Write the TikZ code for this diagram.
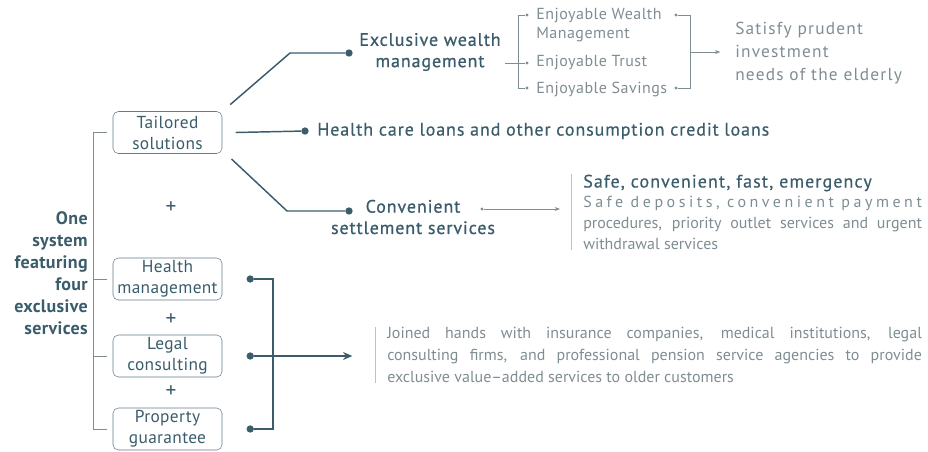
\documentclass[tikz,border=0pt]{standalone}
\usepackage{fontspec}
\setmainfont{PT Sans}
\usetikzlibrary{positioning,arrows.meta}
\definecolor{deepteal}{HTML}{3A5C6B}
\definecolor{softgray}{HTML}{7F8D93}
\definecolor{rulegray}{HTML}{B9C2C6}
\tikzset{
  service/.style = {draw = deepteal!80, rounded corners = 4pt, minimum width = 81.75pt, minimum height = 31.5pt, inner sep = 1pt, align = center, text = deepteal, font = \fontsize{13}{15.75}\selectfont\addfontfeatures{LetterSpace=2}},
  topic/.style = {text = deepteal, align = center, font = \fontsize{13.5}{16}\selectfont\addfontfeatures{FakeBold=0.8, LetterSpace=5}},
  lead/.style = {text = deepteal, anchor = west, inner sep = 0pt, font = \fontsize{13.5}{16}\selectfont\addfontfeatures{FakeBold=0.4, LetterSpace=5}},
  note/.style = {text = softgray, anchor = west, inner sep = 0pt, align = left, font = \fontsize{12}{16.5}\selectfont},
  blob/.style = {circle, fill = deepteal, inner sep = 0pt, minimum size = 5.5pt},
  pin/.style = {circle, fill = softgray, inner sep = 0pt, minimum size = 2.6pt},
  wire/.style = {draw = deepteal, line width = 1.1pt},
  fine/.style = {draw = softgray, line width = 0.6pt},
  rule/.style = {draw = rulegray, line width = 0.6pt}
}

\begin{document}
\begin{tikzpicture}[x = 0.75pt, y = -0.75pt]
\useasboundingbox (0,0) rectangle (928,451);
\node[text = deepteal, align = right, anchor = east, inner sep = 0pt, font = \bfseries\fontsize{13.5}{16.5}\selectfont\addfontfeatures{LetterSpace=2}] (system) at (88,273) {One\\system\\featuring\\four\\exclusive\\services};
\node[service] (tailored) at (167.5,132.5) {Tailored\\solutions};
\node[service] (health) at (167.5,279) {Health\\management};
\node[service] (legal) at (167.5,356) {Legal\\consulting};
\node[service] (property) at (167.5,429) {Property\\guarantee};
\foreach \y/\n in {208/1, 320/2, 392/3}
  \node[text = deepteal, font = \fontsize{16}{16}\selectfont] (plus\n) at (171,\y) {+};
\draw[fine] ([xshift = -4pt]tailored.west) -- ++(-10.5pt,0) |- ([xshift = -4pt]property.west);
\foreach \b in {health, legal}
  \draw[fine] ([xshift = -4pt]\b.west) -- ++(-10.5pt,0);

\node[blob] (wdot) at (349,53) {};
\node[blob] (ldot) at (305,131) {};
\node[blob] (cdot) at (349,211) {};
\coordinate (wbend) at (290,53);
\coordinate (cbend) at (287,211);
\draw[wire] ([shift = {(6pt,5pt)}]tailored.north east) -- (wbend) -- (wdot);
\draw[wire] ([xshift = 10pt]tailored.east) -- (ldot);
\draw[wire] ([shift = {(7pt,-4pt)}]tailored.south east) -- (cbend) -- (cdot);
\node[topic] (wealth) at (430,52) {Exclusive wealth\\management};
\node[lead] (loans) at (317,131) {Health care loans and other consumption credit loans};
\node[topic] (settle) at (413,217) {Convenient\\settlement services};

\node[pin] (e1) at (527,15) {};
\node[pin] (e2) at (527,63) {};
\node[pin] (e3) at (527,88) {};
\node[note, anchor = north west, font = \fontsize{12}{14.25}\selectfont\addfontfeatures{LetterSpace=3}] (enjoy1) at (536,8) {Enjoyable Wealth\\Management};
\node[note, font = \fontsize{12}{14.25}\selectfont\addfontfeatures{LetterSpace=3}] (enjoy2) at (536,63) {Enjoyable Trust};
\node[note, font = \fontsize{12}{14.25}\selectfont\addfontfeatures{LetterSpace=3}] (enjoy3) at (536,89) {Enjoyable Savings};
\draw[fine] (e1) -- ++(-9,0) |- (e3);
\draw[fine] (wealth.east |- e2) -- (e2);
\node[pin] (f1) at (676,15) {};
\node[pin] (f3) at (676,88) {};
\draw[fine] (f1) -- ++(14,0) |- (f3);
\coordinate (fmeet) at (690,52);
\node[note, font = \fontsize{13}{17.25}\selectfont\addfontfeatures{LetterSpace=7}] (satisfy) at (735,53) {Satisfy prudent\\investment\\needs of the elderly};
\coordinate (stip) at ([xshift = -11pt]satisfy.west);
\draw[fine, -{Stealth[length = 4pt, width = 3pt]}] (fmeet) -- (stip |- fmeet);

\node[pin] (cpin) at (482,209) {};
\node[lead, font = \fontsize{13.5}{16}\selectfont\addfontfeatures{FakeBold=0.4, LetterSpace=6}] (safehead) at (583,183) {Safe, convenient, fast, emergency};
\node[note, text width = 254pt, align = justify, below right = 3pt and 0pt of safehead.south west, font = \fontsize{12}{15.75}\selectfont] (safebody) {{\addfontfeatures{LetterSpace=22}Safe deposits, convenient payment}\linebreak procedures, priority outlet services and urgent\linebreak withdrawal services};
\coordinate (srule) at ([xshift = -9pt]safehead.north west);
\draw[rule] (srule) -- (srule |- safebody.south);
\coordinate (send) at (560,209);
\draw[fine, -{Stealth[length = 4pt, width = 3pt]}] (cpin) -- (send);

\node[blob, right = 18pt of health] (hdot) {};
\node[blob, right = 18pt of legal] (gdot) {};
\node[blob, right = 18pt of property] (pdot) {};
\draw[wire] (hdot) -- ++(23,0) |- (pdot);
\node[note, text width = 401pt, align = justify] (joined) at (387,355) {Joined hands with insurance companies, medical institutions, legal\linebreak consulting firms, and professional pension service agencies to provide\linebreak exclusive value--added services to older customers};
\coordinate (jrule) at ([xshift = -9pt]joined.north west);
\draw[rule] (jrule) -- (jrule |- joined.south);
\coordinate (jtip) at ([xshift = -26pt]joined.west);
\draw[wire, -{Stealth[length = 7pt, width = 6pt]}] (gdot) -- (jtip |- gdot);
\end{tikzpicture}
\end{document}
